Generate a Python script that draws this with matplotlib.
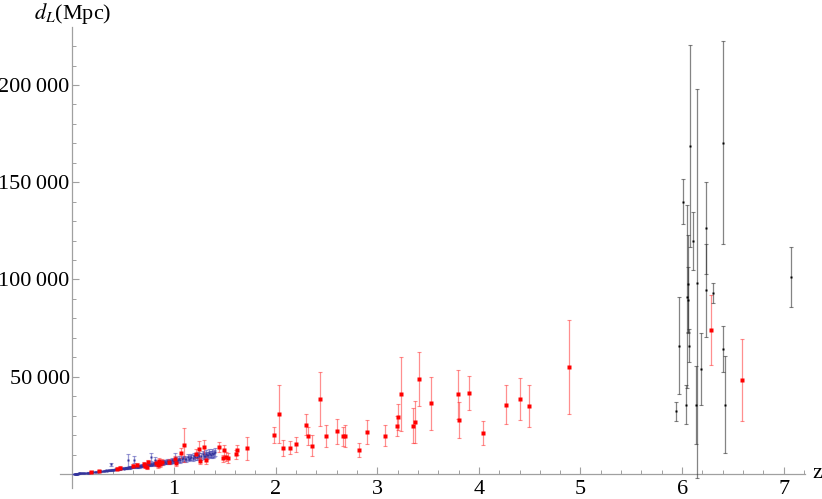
import matplotlib
matplotlib.use("Agg")
import matplotlib.pyplot as plt
from matplotlib.ticker import MultipleLocator, FixedLocator, FixedFormatter

plt.rcParams['font.family'] = 'serif'
plt.rcParams['font.serif'] = ['Liberation Serif', 'DejaVu Serif']
plt.rcParams['mathtext.fontset'] = 'stix'

# ---------------- data ----------------
# Blue series (low redshift supernovae)
blue_z = [0.015, 0.02, 0.025, 0.03, 0.033, 0.035, 0.04, 0.045, 0.05, 0.06, 0.065, 0.07, 0.08, 0.09,
          0.1, 0.11, 0.12, 0.14, 0.15, 0.16, 0.18, 0.19, 0.2, 0.22, 0.23, 0.25, 0.26, 0.28, 0.3, 0.31,
          0.33, 0.34, 0.35, 0.36, 0.37, 0.38, 0.38, 0.4, 0.41, 0.42, 0.43, 0.45, 0.46, 0.47, 0.48, 0.5,
          0.51, 0.52, 0.53, 0.54, 0.55, 0.55, 0.56, 0.57, 0.58, 0.6, 0.605, 0.61, 0.62, 0.63, 0.64, 0.65,
          0.66, 0.67, 0.68, 0.7, 0.71, 0.72, 0.74, 0.75, 0.76, 0.77, 0.77, 0.78, 0.8, 0.81, 0.81, 0.83,
          0.84, 0.85, 0.86, 0.88, 0.89, 0.9, 0.92, 0.93, 0.95, 0.96, 0.97, 0.98, 1.0, 1.01, 1.02, 1.03,
          1.05, 1.06, 1.09, 1.12, 1.14, 1.15, 1.17, 1.19, 1.2, 1.23, 1.24, 1.26, 1.28, 1.3, 1.31, 1.32,
          1.34, 1.36, 1.37, 1.38, 1.4,
          0.27, 0.32, 0.39, 0.44, 0.49, 0.53, 0.59, 0.63, 0.69, 0.73, 0.79, 0.82, 0.87, 0.91, 0.94,
          0.99, 1.04, 1.08, 1.11, 1.16, 1.21, 1.25, 1.29, 1.33, 1.35, 1.39]
blue_d = [60, 95, 105, 140, 145, 160, 175, 210, 225, 265, 300, 315, 370, 400,
          480, 500, 580, 640, 740, 760, 900, 910, 1010, 1080, 1190, 1230, 1370, 1400, 1620, 1580,
          1820, 1760, 1900, 1920, 2050, 2000, 5000, 2280, 2190, 2400, 2350, 2600, 2550, 2750, 2650, 2950,
          2800, 3150, 2900, 3250, 3150, 7000, 3450, 3200, 3550, 3450, 7400, 3900, 3600, 4000, 3750, 4250,
          3850, 4350, 4100, 4650, 4250, 4800, 4500, 5050, 4650, 5200, 8900, 4850, 5500, 5050, 7300, 5800,
          5200, 5900, 5450, 6200, 5650, 6350, 5850, 6650, 6100, 6850, 6300, 7050, 6500, 8300, 7350, 6800,
          7700, 7050, 8100, 7600, 8650, 7900, 8950, 8300, 9300, 8700, 9750, 9000, 10100, 9300, 10400, 9600,
          10700, 9900, 10900, 10100, 11200,
          1300, 1700, 2150, 2450, 2900, 3050, 3650, 3800, 4450, 4500, 5150, 5400, 5600, 6100, 6250,
          6600, 7100, 7500, 7800, 8300, 8500, 9100, 9500, 9700, 10300, 10600]
blue_e = [8, 10, 12, 14, 15, 16, 18, 21, 24, 28, 30, 33, 38, 42,
          48, 52, 58, 66, 75, 78, 90, 95, 105, 115, 125, 135, 145, 150, 170, 170,
          190, 190, 200, 210, 220, 220, 900, 250, 250, 270, 270, 300, 300, 320, 320, 350,
          350, 380, 370, 400, 400, 3200, 430, 420, 450, 460, 1800, 500, 480, 520, 500, 560,
          520, 580, 560, 620, 600, 650, 640, 700, 680, 740, 2000, 720, 800, 760, 1200, 850,
          800, 880, 850, 950, 900, 980, 940, 1050, 1000, 1100, 1050, 1150, 1100, 2600, 1250, 1150,
          1300, 1250, 1400, 1350, 1500, 1400, 1550, 1500, 1650, 1550, 1700, 1650, 1800, 1700, 1850, 1750,
          1900, 1800, 1950, 1850, 2000,
          160, 200, 260, 300, 360, 380, 450, 480, 560, 580, 680, 720, 780, 860, 900,
          950, 1050, 1150, 1200, 1300, 1400, 1500, 1600, 1650, 1750, 1850]

# Red series
red_z = [0.18, 0.26, 0.44, 0.47, 0.60, 0.63, 0.70, 0.71, 0.73, 0.74, 0.82, 0.84, 0.85, 0.86, 0.88,
         0.95, 1.01, 1.02, 1.07, 1.10, 1.22, 1.245, 1.255, 1.29, 1.31, 1.445, 1.48, 1.494, 1.51, 1.53,
         1.61, 1.622, 1.714, 1.98, 2.033, 2.07, 2.145, 2.20, 2.30, 2.32, 2.354, 2.44, 2.50, 2.606, 2.66,
         2.68, 2.82, 2.90, 3.08, 3.197, 3.207, 3.236, 3.35, 3.37, 3.414, 3.525, 3.79, 3.80, 3.905, 4.043,
         4.264, 4.405, 4.49, 4.89, 6.28, 6.59]
red_d = [1200, 1700, 2800, 3300, 4200, 4700, 5300, 4200, 3600, 6000, 5600, 4500, 6800, 5200, 6200,
         6300, 7600, 5800, 10600, 15000, 10500, 12700, 6800, 14000, 7200, 14000, 8000, 12300, 8900, 8400,
         10100, 12300, 13200, 20000, 30700, 13400, 13500, 15200, 25400, 19500, 14600, 38400, 19400, 21900, 19500,
         19700, 12300, 21600, 19700, 24800, 29500, 41000, 24800, 26700, 48800, 36300, 41000, 27800, 41500, 21200,
         35600, 38500, 35000, 55200, 73900, 48300]
red_e = [400, 500, 600, 700, 800, 900, 1000, 1300, 1000, 1200, 1400, 1300, 1200, 1600, 1500,
         1300, 1600, 1500, 2600, 8700, 2500, 4500, 1800, 3500, 2000, 2700, 2000, 2800, 2200, 2500,
         2400, 2500, 6000, 4300, 14800, 4100, 3300, 3900, 5300, 4500, 5400, 13900, 5700, 6500, 4900,
         5700, 3400, 6000, 5300, 5100, 6700, 19000, 9000, 11000, 13900, 13800, 12700, 9300, 8700, 6200,
         9900, 10800, 11000, 24200, 17900, 21000]

# Black series (high redshift)
black_z = [5.94, 5.97, 6.005, 6.035, 6.045, 6.055, 6.06, 6.07, 6.075, 6.11, 6.137, 6.147, 6.186,
           6.24, 6.24, 6.30, 6.405, 6.405, 6.425, 7.07]
black_d = [32200, 65900, 140000, 35600, 91100, 97800, 89400, 65900, 168600, 119900, 35600, 98000, 54000,
           126400, 94400, 92900, 170300, 64200, 35600, 101300]
black_e = [5000, 25000, 11700, 10000, 47000, 25000, 17000, 8500, 52000, 15000, 20000, 100000, 18500,
           23500, 23800, 5100, 52300, 11800, 25000, 15200]

x_major = [1, 2, 3, 4, 5, 6, 7]
y_major = [50000, 100000, 150000, 200000]
y_labels = ['50\u2009000', '100\u2009000', '150\u2009000', '200\u2009000']

# ---------------- figure ----------------
W, H = 822, 499
fig = plt.figure(figsize=(W / 100, H / 100), dpi=100)
x0_pix, x1_pix = 59.8, 805.0
ytop_pix, ybot_pix = 27.0, 487.6
ax = fig.add_axes([x0_pix / W, (H - ybot_pix) / H, (x1_pix - x0_pix) / W, (ybot_pix - ytop_pix) / H])
ax.set_xlim(-0.125, 7.21)
ax.set_ylim(-7000, 229800)

def draw(z, d, e, pcol, ecol, ealpha, ms):
    eb = ax.errorbar(z, d, yerr=e, fmt='s', color=pcol, ms=ms, mec='none',
                     ecolor=ecol, elinewidth=0.9, capsize=1.5, capthick=0.8, zorder=3)
    for coll in eb[2]:
        coll.set_alpha(ealpha)
    for cap in eb[1]:
        cap.set_alpha(ealpha)

draw(blue_z, blue_d, blue_e, '#34349c', '#4a4ab4', 0.55, 1.9)
draw(red_z, red_d, red_e, '#ff0000', '#ff2020', 0.5, 2.2)
draw(black_z, black_d, black_e, '#000000', '#333333', 0.6, 2.0)

# axes styling (Mathematica-like axes through origin)
for s in ['top', 'right']:
    ax.spines[s].set_visible(False)
ax.spines['left'].set_position(('data', 0))
ax.spines['bottom'].set_position(('data', 0))
for s in ['left', 'bottom']:
    ax.spines[s].set_color('#a0a0a0')
    ax.spines[s].set_linewidth(0.9)

ax.xaxis.set_major_locator(FixedLocator(x_major))
ax.xaxis.set_major_formatter(FixedFormatter([str(v) for v in x_major]))
ax.xaxis.set_minor_locator(MultipleLocator(0.2))
ax.yaxis.set_major_locator(FixedLocator(y_major))
ax.yaxis.set_major_formatter(FixedFormatter(y_labels))
ax.yaxis.set_minor_locator(MultipleLocator(10000))

ax.tick_params(axis='both', which='both', direction='in', color='#a0a0a0', labelsize=16)
ax.tick_params(axis='both', which='major', length=5, width=0.8)
ax.tick_params(axis='both', which='minor', length=3, width=0.7)
ax.tick_params(axis='x', which='major', pad=4)
ax.tick_params(axis='y', which='major', pad=2)

fig.text(812 / W, 1 - 474 / H, 'z', fontsize=16, ha='left', va='center')
fig.text(73 / W, 1 - 13 / H, r'$d_L$(Mpc)', fontsize=16, ha='center', va='center')

fig.savefig('out.png', dpi=100)
